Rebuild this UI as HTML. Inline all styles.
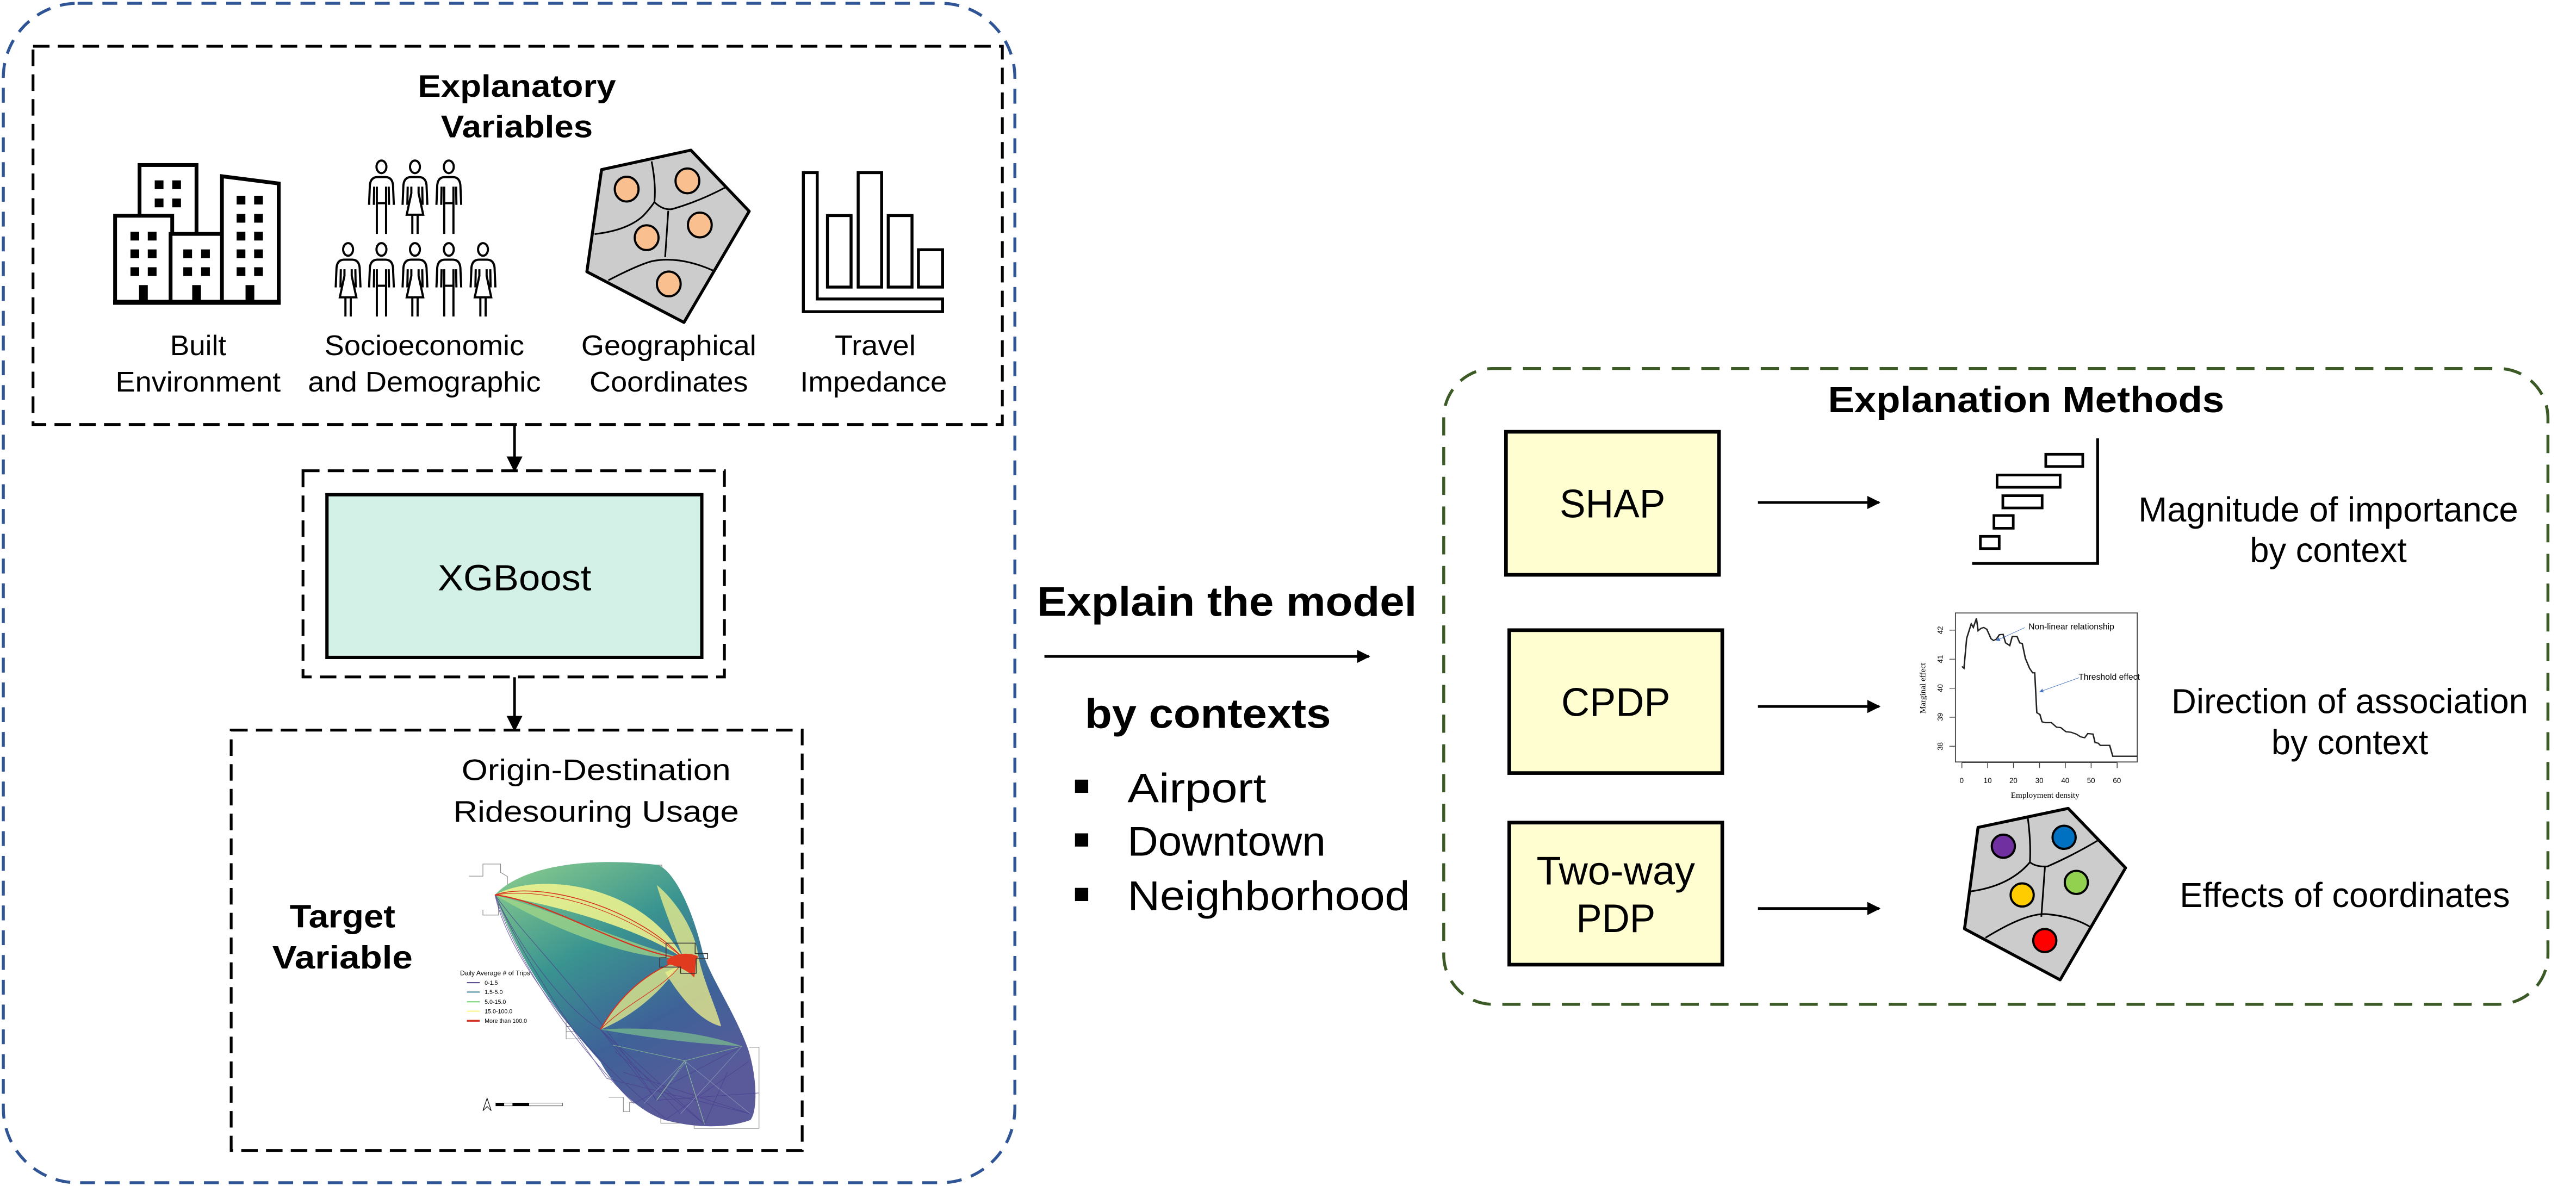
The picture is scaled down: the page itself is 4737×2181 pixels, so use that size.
<!DOCTYPE html>
<html><head><meta charset="utf-8"><style>
html,body{margin:0;padding:0;background:#fff;}
svg{display:block;}
text{font-family:"Liberation Sans",Arial,sans-serif;fill:#000;}
</style></head><body>
<svg width="4737" height="2181" viewBox="0 0 1560 718" preserveAspectRatio="none" xmlns="http://www.w3.org/2000/svg">
<defs>
<linearGradient id="mg" x1="0" y1="0" x2="0.55" y2="1">
<stop offset="0" stop-color="#8fd08c"/><stop offset="0.4" stop-color="#3a9490"/><stop offset="0.72" stop-color="#3e6298"/><stop offset="1" stop-color="#5a5a9a"/>
</linearGradient>
<marker id="ah" viewBox="0 0 10 10" refX="9" refY="5" markerWidth="5" markerHeight="5" orient="auto" markerUnits="strokeWidth"><path d="M0,0 L10,5 L0,10 Z" fill="#000"/></marker>
<marker id="ah2" viewBox="0 0 10 10" refX="9" refY="5" markerWidth="6" markerHeight="6" orient="auto" markerUnits="strokeWidth"><path d="M0,0 L10,5 L0,10 Z" fill="#000"/></marker>
<marker id="ahb" viewBox="0 0 10 10" refX="9" refY="5" markerWidth="8" markerHeight="8" orient="auto" markerUnits="strokeWidth"><path d="M0,0 L10,5 L0,10 Z" fill="#4472c4"/></marker>
<g id="man" fill="none" stroke="#000" stroke-width="1.3">
<ellipse cx="0" cy="0" rx="3" ry="3.8" fill="#fff"/>
<path d="M-7.5,23 L-7,11 Q-6.5,6.3 -2.5,6.2 L2.5,6.2 Q6.5,6.3 7,11 L7.5,23"/>
<path d="M-4.6,23 L-4.4,12 M4.6,23 L4.4,12"/>
<path d="M-2.8,12 V40.6 M2.8,12 V40.6 M-2.8,22 H2.8"/>
</g>
<g id="woman" fill="none" stroke="#000" stroke-width="1.3">
<ellipse cx="0" cy="0" rx="3" ry="3.8" fill="#fff"/>
<path d="M-7.5,23 L-7,11 Q-6.5,6.3 -2.5,6.2 L2.5,6.2 Q6.5,6.3 7,11 L7.5,23"/>
<path d="M-4.6,23 L-4.4,12 M4.6,23 L4.4,12"/>
<path d="M-2.2,12 V16 L-5,29 H5 L2.2,16 V12 M-1.6,29 V40.6 M1.6,29 V40.6"/>
</g>
</defs>

<rect x="2" y="2" width="612.6" height="714" rx="45" fill="none" stroke="#2f5597" stroke-width="1.8" stroke-dasharray="9,6"/>
<rect x="20" y="28" width="587" height="229" fill="none" stroke="#000" stroke-width="1.7" stroke-dasharray="10,5"/>
<text x="313" y="58.6" font-size="19" font-weight="bold" text-anchor="middle" textLength="120" lengthAdjust="spacingAndGlyphs">Explanatory</text>
<text x="313" y="83.2" font-size="19" font-weight="bold" text-anchor="middle" textLength="92" lengthAdjust="spacingAndGlyphs">Variables</text>

<g fill="#fff" stroke="#000" stroke-width="2.3">
<rect x="84.5" y="99.9" width="34.5" height="42"/>
<rect x="69.7" y="130.6" width="34.6" height="52.5"/>
<rect x="103.3" y="141.6" width="31.9" height="41.5"/>
<path d="M134.4,106.7 L168.8,111.1 L168.8,183.1 L134.4,183.1 Z"/>
</g>
<line x1="68.5" y1="183" x2="170" y2="183" stroke="#000" stroke-width="3"/>
<g fill="#000">
<rect x="79" y="140.3" width="5.3" height="5.3"/><rect x="89.5" y="140.3" width="5.3" height="5.3"/>
<rect x="79" y="151" width="5.3" height="5.3"/><rect x="89.5" y="151" width="5.3" height="5.3"/>
<rect x="79" y="161.8" width="5.3" height="5.3"/><rect x="89.5" y="161.8" width="5.3" height="5.3"/>
<rect x="93.7" y="109.2" width="5.3" height="5.3"/><rect x="104.3" y="109.2" width="5.3" height="5.3"/>
<rect x="93.7" y="120.2" width="5.3" height="5.3"/><rect x="104.3" y="120.2" width="5.3" height="5.3"/>
<rect x="111" y="151" width="5.3" height="5.3"/><rect x="121.8" y="151" width="5.3" height="5.3"/>
<rect x="111" y="161.8" width="5.3" height="5.3"/><rect x="121.8" y="161.8" width="5.3" height="5.3"/>
<rect x="143.3" y="118.5" width="5.3" height="5.3"/><rect x="153.9" y="118.5" width="5.3" height="5.3"/>
<rect x="143.3" y="129.5" width="5.3" height="5.3"/><rect x="153.9" y="129.5" width="5.3" height="5.3"/>
<rect x="143.3" y="140.3" width="5.3" height="5.3"/><rect x="153.9" y="140.3" width="5.3" height="5.3"/>
<rect x="143.3" y="151" width="5.3" height="5.3"/><rect x="153.9" y="151" width="5.3" height="5.3"/>
<rect x="143.3" y="161.8" width="5.3" height="5.3"/><rect x="153.9" y="161.8" width="5.3" height="5.3"/>
<rect x="84.2" y="172.6" width="5.3" height="9"/><rect x="116.4" y="172.6" width="5.3" height="9"/><rect x="148.7" y="172.6" width="5.3" height="9"/>
</g>

<use href="#man" x="231" y="101"/>
<use href="#woman" x="251.3" y="101"/>
<use href="#man" x="271.8" y="101"/>
<use href="#woman" x="210.8" y="151"/>
<use href="#man" x="231" y="151"/>
<use href="#woman" x="251.3" y="151"/>
<use href="#man" x="271.8" y="151"/>
<use href="#woman" x="292.5" y="151"/>

<path d="M364.3,102.7 L418.4,90.9 L453.7,127.9 L414.2,195.2 L355.4,164.5 Z" fill="#cccccc" stroke="#000" stroke-width="1.8" stroke-linejoin="round"/>
<g fill="none" stroke="#000" stroke-width="1">
<path d="M394.6,97.7 Q397.4,112 396.3,122.4 Q401.6,127.4 407,126.6 Q423.5,121.9 439.4,113.4"/>
<path d="M404.7,127.6 L402.8,155.7"/>
<path d="M360.1,141.7 Q379.8,139.5 389.5,130.7 Q393.2,126.8 396.3,122.4"/>
<path d="M368.4,169.7 Q386.5,160.3 394.9,158.1 Q411.7,154.8 431.9,163.8"/>
</g>
<g fill="#f9bf8f" stroke="#000" stroke-width="1.3">
<ellipse cx="379.5" cy="114.5" rx="7.2" ry="7.5"/>
<ellipse cx="416.3" cy="109.5" rx="7.2" ry="7.5"/>
<ellipse cx="423.8" cy="136.2" rx="7.2" ry="7.5"/>
<ellipse cx="391.6" cy="143.9" rx="7.2" ry="7.5"/>
<ellipse cx="405" cy="171.9" rx="7.2" ry="7.5"/>
</g>

<g fill="#fff" stroke="#000" stroke-width="1.8">
<path d="M486.5,104.5 H494.9 V181 H570.8 V188.7 H486.5 Z"/>
<rect x="501.1" y="130.5" width="14.3" height="43.3"/>
<rect x="519.7" y="104.5" width="14.2" height="69.3"/>
<rect x="537.9" y="130.5" width="14.4" height="43.3"/>
<rect x="556.2" y="151.2" width="14.6" height="22.6"/>
</g>

<g font-size="17" text-anchor="middle">
<text x="120" y="215" textLength="34" lengthAdjust="spacingAndGlyphs">Built</text>
<text x="120" y="237" textLength="100" lengthAdjust="spacingAndGlyphs">Environment</text>
<text x="257" y="215" textLength="121" lengthAdjust="spacingAndGlyphs">Socioeconomic</text>
<text x="257" y="237" textLength="141" lengthAdjust="spacingAndGlyphs">and Demographic</text>
<text x="405" y="215" textLength="106" lengthAdjust="spacingAndGlyphs">Geographical</text>
<text x="405" y="237" textLength="96" lengthAdjust="spacingAndGlyphs">Coordinates</text>
<text x="530" y="215" textLength="49" lengthAdjust="spacingAndGlyphs">Travel</text>
<text x="529" y="237" textLength="89" lengthAdjust="spacingAndGlyphs">Impedance</text>
</g>

<line x1="311.6" y1="257" x2="311.6" y2="285" stroke="#000" stroke-width="1.6" marker-end="url(#ah2)"/>
<rect x="183.5" y="285" width="255.2" height="124.8" fill="none" stroke="#000" stroke-width="1.7" stroke-dasharray="10,5"/>
<rect x="198" y="299.5" width="227" height="98.5" fill="#d3f1e6" stroke="#000" stroke-width="2"/>
<text x="311.6" y="357.4" font-size="22" text-anchor="middle" textLength="93" lengthAdjust="spacingAndGlyphs">XGBoost</text>
<line x1="311.6" y1="410" x2="311.6" y2="442" stroke="#000" stroke-width="1.6" marker-end="url(#ah2)"/>

<rect x="140" y="442" width="345.8" height="254.5" fill="none" stroke="#000" stroke-width="1.7" stroke-dasharray="10,5"/>
<text x="361" y="472.3" font-size="18" text-anchor="middle" textLength="163" lengthAdjust="spacingAndGlyphs">Origin-Destination</text>
<text x="361" y="497.4" font-size="18" text-anchor="middle" textLength="173" lengthAdjust="spacingAndGlyphs">Ridesouring Usage</text>
<text x="207.4" y="561.4" font-size="19.5" font-weight="bold" text-anchor="middle" textLength="64" lengthAdjust="spacingAndGlyphs">Target</text>
<text x="207.4" y="586.3" font-size="19.5" font-weight="bold" text-anchor="middle" textLength="85" lengthAdjust="spacingAndGlyphs">Variable</text>

<g transform="translate(276.7,510.5) scale(0.126)">
<g fill="none" stroke="#888" stroke-width="3">
<path d="M58,158 H125 V100 H210 V140 L243,160 V200 L200,250 V345 H125 V320"/>
<path d="M458,120 H505 V160 H600 V190 H650 V150"/>
<path d="M525,855 H690 V940 H525 Z M525,880 H640 M525,905 H650"/>
<path d="M1405,980 H1452 V1370 H1140 V1345 H980 V1320"/>
<path d="M730,1220 H800 V1290 H830 V1245 H900"/>
<path d="M830,120 H900 V105 H985 V120"/>
</g>
<path d="M183,248 C300,120 600,60 970,105 C1060,150 1140,350 1180,520 C1220,650 1330,800 1400,990 C1450,1150 1440,1300 1410,1330 C1300,1370 1150,1370 1000,1330 C880,1290 760,1180 690,1050 C560,900 330,650 183,248 Z" fill="url(#mg)"/>
<g fill="none" stroke="#4a3f8f" stroke-width="3" opacity="0.75">
<path d="M183,248 C260,500 500,900 850,1250"/>
<path d="M183,248 C320,560 560,900 720,1130"/>
<path d="M183,248 C300,500 520,800 690,895"/>
<path d="M183,248 C350,480 600,700 960,1235"/>
<path d="M183,248 C250,560 600,1000 1000,1320"/>
<path d="M690,895 L960,1235 M690,895 L1190,1350 M690,895 L1075,1300 M720,1130 L1410,1300 M850,1250 L1370,975 M960,1235 L1450,1200 M760,1000 L1190,1350 M800,1100 L1410,1300 M1000,1330 L1400,1050 M1190,1350 L1300,1100"/>
</g>
<g fill="none" stroke="#bfe3e0" stroke-width="2" opacity="0.5">
<path d="M960,1235 L1100,1050 L1410,1300 M1190,1350 L1095,1045 L900,1250 M1075,1300 L1370,975"/>
</g>
<path d="M183,248 C400,130 900,200 1090,555 C900,420 500,300 183,248 Z" fill="#f5f68e" opacity="0.85"/>
<path d="M183,248 C400,380 800,560 1090,555 C800,470 450,320 183,248 Z" fill="#a7da88" opacity="0.7"/>
<path d="M960,200 C1080,300 1150,450 1160,540 C1180,650 1250,800 1270,880 C1150,850 1050,700 1000,620 C1050,600 1090,580 1090,555 C1050,450 1000,330 960,200 Z" fill="#f2f28c" opacity="0.75"/>
<path d="M690,895 C780,720 950,600 1090,555 C1000,700 850,830 690,895 Z" fill="#e9f08a" opacity="0.75"/>
<path d="M690,895 C900,880 1150,900 1370,975 C1100,960 900,930 690,895 Z" fill="#86d08a" opacity="0.6"/>
<path d="M1095,1045 L960,1235 M1095,1045 L1190,1350 M1095,1045 L1370,975 M1095,1045 L750,970" stroke="#9ad98a" stroke-width="3" opacity="0.6"/>
<g fill="none" stroke="#d7301f">
<path d="M183,248 C450,280 800,520 1090,555" stroke-width="6"/>
<path d="M183,248 C400,180 850,300 1090,555" stroke-width="4"/>
<path d="M183,248 C500,200 900,380 1090,555" stroke-width="3"/>
<path d="M690,895 C800,700 950,600 1090,555" stroke-width="5"/>
<path d="M690,895 C820,760 1000,700 1090,565" stroke-width="3"/>
</g>
<path d="M1010,560 C1040,530 1120,520 1160,545 C1140,570 1150,610 1140,645 C1110,610 1060,590 1010,580 Z" fill="#e03a1f"/>
<path d="M1005,480 H1145 V530 H1205 V555 H1150 V625 H1075 V595 H975 V550 H1005 Z" fill="none" stroke="#333" stroke-width="4"/>
<text x="15" y="635" font-size="32">Daily Average # of Trips</text>
<g stroke-width="5"><line x1="48" y1="670" x2="110" y2="670" stroke="#4b3f8f"/><line x1="48" y1="715" x2="110" y2="715" stroke="#2a788e"/><line x1="48" y1="762" x2="110" y2="762" stroke="#5ec962"/><line x1="48" y1="807" x2="110" y2="807" stroke="#fdf67a"/><line x1="48" y1="853" x2="110" y2="853" stroke="#d7301f" stroke-width="9"/></g>
<g font-size="28"><text x="133" y="680">0-1.5</text><text x="133" y="725">1.5-5.0</text><text x="133" y="772">5.0-15.0</text><text x="133" y="817">15.0-100.0</text><text x="133" y="863">More than 100.0</text></g>
<path d="M145,1225 L125,1285 L145,1265 L165,1285 Z" fill="none" stroke="#000" stroke-width="3"/>
<rect x="187" y="1248" width="320" height="14" fill="none" stroke="#000" stroke-width="2"/>
<rect x="187" y="1248" width="40" height="14" fill="#000"/><rect x="267" y="1248" width="80" height="14" fill="#000"/>
</g>

<text x="628" y="372.8" font-size="25" font-weight="bold" textLength="230" lengthAdjust="spacingAndGlyphs">Explain the model</text>
<line x1="632.5" y1="397.4" x2="829" y2="397.4" stroke="#000" stroke-width="1.6" marker-end="url(#ah)"/>
<text x="657" y="440.6" font-size="25" font-weight="bold" textLength="149" lengthAdjust="spacingAndGlyphs">by contexts</text>
<g fill="#000"><rect x="651" y="472" width="8" height="8"/><rect x="651" y="504.5" width="8" height="8"/><rect x="651" y="537.5" width="8" height="8"/></g>
<g font-size="25"><text x="682.8" y="485.7" textLength="84" lengthAdjust="spacingAndGlyphs">Airport</text>
<text x="682.8" y="518" textLength="120" lengthAdjust="spacingAndGlyphs">Downtown</text>
<text x="682.8" y="550.9" textLength="171" lengthAdjust="spacingAndGlyphs">Neighborhood</text></g>

<rect x="874.3" y="223.1" width="668.7" height="384.9" rx="30" fill="none" stroke="#3b5a26" stroke-width="1.8" stroke-dasharray="11,7"/>
<text x="1107" y="249.6" font-size="22" font-weight="bold" textLength="240" lengthAdjust="spacingAndGlyphs">Explanation Methods</text>

<g fill="#fefed0" stroke="#000" stroke-width="2.2">
<rect x="912" y="261.4" width="129" height="86.6"/>
<rect x="914" y="381.5" width="129" height="86.5"/>
<rect x="914" y="498" width="129" height="86"/>
</g>
<text x="976.5" y="313.2" font-size="24" text-anchor="middle" textLength="64" lengthAdjust="spacingAndGlyphs">SHAP</text>
<text x="978.5" y="433.4" font-size="24" text-anchor="middle" textLength="66" lengthAdjust="spacingAndGlyphs">CPDP</text>
<text x="978.5" y="535.5" font-size="24" text-anchor="middle" textLength="96" lengthAdjust="spacingAndGlyphs">Two-way</text>
<text x="978.5" y="564.2" font-size="24" text-anchor="middle" textLength="48" lengthAdjust="spacingAndGlyphs">PDP</text>

<g stroke="#000" stroke-width="1.6">
<line x1="1064.6" y1="304.2" x2="1138" y2="304.2" marker-end="url(#ah)"/>
<line x1="1064.6" y1="427.7" x2="1138" y2="427.7" marker-end="url(#ah)"/>
<line x1="1064.6" y1="550" x2="1138" y2="550" marker-end="url(#ah)"/>
</g>

<path d="M1270.3,265.4 V341.1 H1194.3" fill="none" stroke="#000" stroke-width="1.7"/>
<g fill="none" stroke="#000" stroke-width="1.6">
<rect x="1238.9" y="275" width="22.4" height="7.4"/>
<rect x="1209.4" y="287.6" width="38.2" height="7.4"/>
<rect x="1212.9" y="300.1" width="23.8" height="7.4"/>
<rect x="1207.5" y="312.1" width="11.7" height="7.7"/>
<rect x="1199.3" y="324.7" width="11.4" height="7.4"/>
</g>

<rect x="1184.2" y="371.1" width="110.1" height="90.2" fill="none" stroke="#444" stroke-width="0.6"/>
<g transform="translate(1152.8,362.3) scale(0.12605,0.10979)">
<polyline fill="none" stroke="#222" stroke-width="7" points="280,375 290,385 303,220 325,140 335,160 350,110 358,178 372,165 385,160 400,170 420,222 432,232 445,225 460,200 478,198 490,245 510,260 522,210 545,210 558,245 570,248 585,330 605,385 620,410 630,410 640,630 655,640 665,680 680,685 710,685 725,700 735,710 755,712 780,735 805,738 830,748 850,763 870,768 885,745 910,748 920,795 935,798 945,810 990,810 1005,870 1122,870"/>
<path d="M280,905 V935 M404,905 V935 M528,905 V935 M653,905 V935 M777,905 V935 M901,905 V935 M1026,905 V935 M280,905 H1026 M248,175 H220 M248,335 H220 M248,495 H220 M248,655 H220 M248,815 H220" stroke="#444" stroke-width="4"/>
</g>
<g font-size="4.4" fill="#333" text-anchor="middle">
<text x="1188" y="474">0</text><text x="1203.7" y="474">10</text><text x="1219.3" y="474">20</text><text x="1235" y="474">30</text><text x="1250.7" y="474">40</text><text x="1266.3" y="474">50</text><text x="1282" y="474">60</text>
</g>
<text x="1238.5" y="483" font-size="5" text-anchor="middle" style="font-family:'Liberation Serif',serif">Employment density</text>
<text transform="translate(1166,416.6) rotate(-90)" font-size="5" text-anchor="middle" style="font-family:'Liberation Serif',serif">Marginal effect</text>
<g font-size="4.4" text-anchor="middle" fill="#333">
<text transform="translate(1176.5,381.5) rotate(-90)">42</text><text transform="translate(1176.5,399) rotate(-90)">41</text><text transform="translate(1176.5,416.6) rotate(-90)">40</text><text transform="translate(1176.5,434) rotate(-90)">39</text><text transform="translate(1176.5,451.8) rotate(-90)">38</text>
</g>
<text x="1228.4" y="381" font-size="5.2">Non-linear relationship</text>
<line x1="1226.3" y1="379.9" x2="1209" y2="387.8" stroke="#4472c4" stroke-width="0.3" marker-end="url(#ahb)"/>
<text x="1258.7" y="411.5" font-size="5.2">Threshold effect</text>
<line x1="1259" y1="410.3" x2="1235.2" y2="418.8" stroke="#4472c4" stroke-width="0.3" marker-end="url(#ahb)"/>

<path d="M1197.9,500.9 L1252.5,489.4 L1287.2,525.4 L1247.6,593.2 L1189.7,562.3 Z" fill="#cccccc" stroke="#000" stroke-width="1.8" stroke-linejoin="round"/>
<g fill="none" stroke="#000" stroke-width="1">
<path d="M1228,495 Q1230,510 1229.3,522 Q1233,525 1240,524.5 Q1255,518 1271,508.5"/>
<path d="M1238.4,524.8 L1236.2,555"/>
<path d="M1193,539.7 Q1217,536.5 1229.3,522"/>
<path d="M1202.4,567.7 Q1228,552 1240.3,553.5 Q1256,555 1266.4,561.5"/>
</g>
<g stroke="#000" stroke-width="1.3">
<circle cx="1213.2" cy="512.3" r="7" fill="#7030a0"/>
<circle cx="1250" cy="506.9" r="7" fill="#0070c0"/>
<circle cx="1257.4" cy="534.2" r="7" fill="#92d050"/>
<circle cx="1224.6" cy="541.8" r="7" fill="#ffcc00"/>
<circle cx="1238.3" cy="569.4" r="7" fill="#ff0000"/>
</g>

<g font-size="21" text-anchor="middle">
<text x="1410" y="315.7" textLength="230" lengthAdjust="spacingAndGlyphs">Magnitude of importance</text>
<text x="1410" y="340.3" textLength="95" lengthAdjust="spacingAndGlyphs">by context</text>
<text x="1423" y="431.8" textLength="216" lengthAdjust="spacingAndGlyphs">Direction of association</text>
<text x="1423" y="456.6" textLength="95" lengthAdjust="spacingAndGlyphs">by context</text>
<text x="1420" y="549.2" textLength="200" lengthAdjust="spacingAndGlyphs">Effects of coordinates</text>
</g>
</svg>
</body></html>
